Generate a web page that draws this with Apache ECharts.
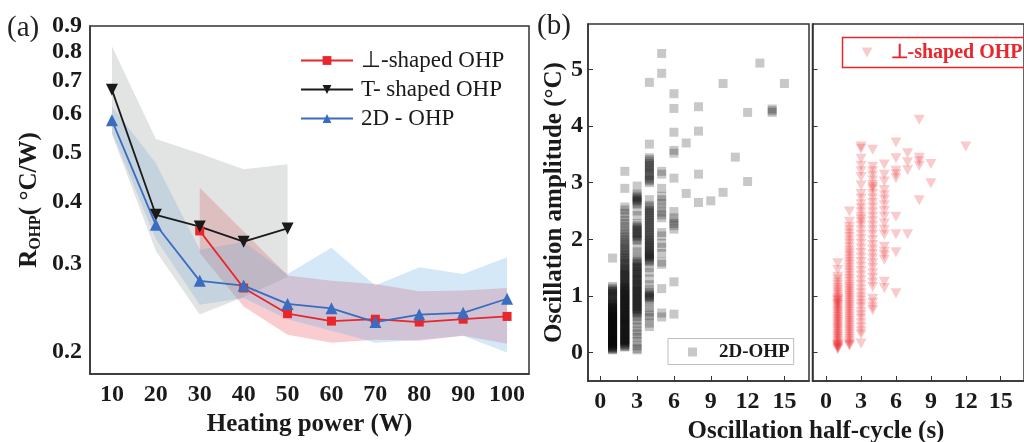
<!DOCTYPE html>
<html>
<head>
<meta charset="utf-8">
<script src="https://cdn.jsdelivr.net/npm/echarts@6/dist/echarts.min.js"></script>
<style>
  html, body { margin: 0; padding: 0; background: #fff; }
  #chart { width: 1024px; height: 442px; }
</style>
</head>
<body>
<div id="chart"></div>
<script>
// ---- panel (a): thermal resistance vs heating power ----
const power = ['10', '20', '30', '40', '50', '60', '70', '80', '90', '100']
const rPerp = ['-', '-', 0.349, 0.268, 0.238, 0.230, 0.232, 0.229, 0.232, 0.235]
const rT = [0.670, 0.376, 0.356, 0.332, 0.353, '-', '-', '-', '-', '-']
const r2D = [0.582, 0.359, 0.277, 0.271, 0.249, 0.244, 0.229, 0.237, 0.239, 0.255]
// shaded ranges (low / high)
const perpLo = ['-', '-', 0.315, 0.246, 0.216, 0.208, 0.211, 0.210, 0.215, 0.207]
const perpHi = ['-', '-', 0.426, 0.348, 0.284, 0.277, 0.273, 0.264, 0.265, 0.268]
const tLo = [0.545, 0.318, 0.237, 0.257, 0.282, '-', '-', '-', '-', '-']
const tHi = [0.820, 0.534, 0.499, 0.464, 0.475, '-', '-', '-', '-', '-']
const d2Lo = [0.550, 0.336, 0.248, 0.256, 0.232, 0.220, 0.208, 0.211, 0.215, 0.199]
const d2Hi = [0.620, 0.477, 0.320, 0.332, 0.286, 0.323, 0.271, 0.295, 0.286, 0.309]
const rTicks = [0.2, 0.3, 0.4, 0.5, 0.6, 0.7, 0.8, 0.9]

// ---- panel (b): oscillation amplitude vs half-cycle, [half-cycle, amplitudes] ----
const amp2D = [
  [1, [0.05, 0.06, 0.07, 0.08, 0.09, 0.1, 0.11, 0.12, 0.13, 0.14, 0.15, 0.16, 0.17, 0.18, 0.19, 0.2, 0.21, 0.22, 0.23, 0.24, 0.25, 0.26, 0.27, 0.28, 0.29, 0.3, 0.31, 0.32, 0.33, 0.34, 0.35, 0.36, 0.37, 0.39, 0.4, 0.41, 0.42, 0.43, 0.44, 0.45, 0.46, 0.47, 0.48, 0.49, 0.5, 0.51, 0.52, 0.53, 0.55, 0.56, 0.57, 0.58, 0.59, 0.6, 0.61, 0.62, 0.63, 0.64, 0.65, 0.66, 0.67, 0.69, 0.7, 0.71, 0.72, 0.73, 0.75, 0.76, 0.77, 0.78, 0.8, 0.81, 0.82, 0.84, 0.85, 0.87, 0.88, 0.9, 0.92, 0.94, 0.97, 0.99, 1.0, 1.03, 1.04, 1.07, 1.08, 1.1, 1.12, 1.14, 1.17, 1.67]],
  [2, [0.1, 0.11, 0.12, 0.14, 0.15, 0.17, 0.18, 0.2, 0.21, 0.22, 0.24, 0.25, 0.27, 0.28, 0.3, 0.31, 0.33, 0.34, 0.35, 0.37, 0.38, 0.4, 0.41, 0.43, 0.44, 0.46, 0.47, 0.49, 0.5, 0.52, 0.53, 0.55, 0.56, 0.57, 0.59, 0.6, 0.62, 0.63, 0.65, 0.66, 0.68, 0.69, 0.71, 0.72, 0.74, 0.75, 0.77, 0.78, 0.8, 0.81, 0.83, 0.84, 0.86, 0.87, 0.89, 0.9, 0.92, 0.93, 0.95, 0.96, 0.98, 0.99, 1.01, 1.02, 1.04, 1.05, 1.07, 1.08, 1.1, 1.12, 1.13, 1.15, 1.16, 1.18, 1.2, 1.22, 1.24, 1.26, 1.28, 1.3, 1.32, 1.34, 1.36, 1.38, 1.4, 1.42, 1.44, 1.46, 1.48, 1.5, 1.53, 1.56, 1.58, 1.6, 1.63, 1.66, 1.68, 1.71, 1.74, 1.77, 1.8, 1.83, 1.86, 1.9, 1.93, 1.96, 2.0, 2.04, 2.08, 2.12, 2.17, 2.23, 2.28, 2.33, 2.4, 2.46, 2.52, 2.57, 2.9, 3.2]],
  [3, [0.05, 0.07, 0.12, 0.2, 0.27, 0.33, 0.38, 0.45, 0.52, 0.58, 0.64, 0.68, 0.7, 0.72, 0.74, 0.76, 0.78, 0.8, 0.82, 0.84, 0.86, 0.88, 0.9, 0.92, 0.94, 0.96, 0.98, 1.0, 1.02, 1.04, 1.06, 1.08, 1.1, 1.12, 1.14, 1.16, 1.18, 1.2, 1.22, 1.25, 1.27, 1.29, 1.31, 1.33, 1.35, 1.38, 1.4, 1.42, 1.44, 1.47, 1.49, 1.51, 1.53, 1.56, 1.58, 1.61, 1.63, 1.7, 1.78, 1.86, 1.98, 2.0, 2.02, 2.05, 2.07, 2.1, 2.12, 2.15, 2.17, 2.2, 2.22, 2.25, 2.28, 2.42, 2.5, 2.62, 2.64, 2.66, 2.68, 2.7, 2.73, 2.75, 2.78, 2.8, 2.94]],
  [4, [0.46, 0.52, 0.62, 0.66, 0.72, 0.8, 0.88, 0.95, 0.97, 0.98, 1.0, 1.02, 1.04, 1.06, 1.12, 1.2, 1.3, 1.42, 1.5, 1.6, 1.62, 1.64, 1.66, 1.68, 1.7, 1.72, 1.74, 1.76, 1.78, 1.8, 1.83, 1.85, 1.88, 1.9, 1.93, 1.95, 1.98, 2.0, 2.03, 2.06, 2.09, 2.12, 2.15, 2.18, 2.21, 2.24, 2.27, 2.3, 2.33, 2.36, 2.39, 2.42, 2.45, 2.48, 2.51, 2.54, 2.57, 2.6, 2.7, 3.0, 3.03, 3.05, 3.08, 3.12, 3.15, 3.18, 3.22, 3.25, 3.28, 3.3, 3.34, 3.38, 3.41, 3.44, 3.68, 4.77]],
  [5, [0.63, 0.7, 1.13, 1.56, 1.6, 1.75, 1.86, 1.93, 2.06, 2.12, 2.38, 2.43, 2.48, 2.55, 2.63, 2.7, 2.76, 2.9, 3.15, 3.2, 4.93, 5.28]],
  [6, [0.68, 1.25, 2.18, 2.24, 2.28, 2.33, 2.38, 2.49, 3.08, 3.52, 3.57, 3.89, 4.31, 4.57]],
  [7, [2.81, 3.7]],
  [8, [2.65, 3.15, 3.91, 4.34]],
  [9, [2.68]],
  [10, [2.83, 4.75]],
  [11, [3.45]],
  [12, [3.02, 4.24]],
  [13, [5.11]],
  [14, [4.24, 4.27, 4.3]],
  [15, [4.75]]
]
const ampPerp = [
  [1, [0.06, 0.08, 0.09, 0.11, 0.12, 0.14, 0.15, 0.18, 0.21, 0.24, 0.27, 0.3, 0.33, 0.36, 0.39, 0.42, 0.45, 0.48, 0.51, 0.54, 0.57, 0.6, 0.63, 0.66, 0.69, 0.72, 0.75, 0.78, 0.81, 0.84, 0.86, 0.88, 0.91, 0.93, 0.95, 0.98, 1.02, 1.06, 1.1, 1.14, 1.19, 1.24, 1.29, 1.34, 1.46, 1.58]],
  [2, [0.12, 0.14, 0.16, 0.2, 0.24, 0.28, 0.32, 0.36, 0.4, 0.44, 0.48, 0.52, 0.56, 0.6, 0.64, 0.68, 0.72, 0.76, 0.8, 0.84, 0.88, 0.92, 0.96, 1.0, 1.04, 1.08, 1.12, 1.16, 1.2, 1.25, 1.3, 1.35, 1.4, 1.45, 1.5, 1.55, 1.6, 1.65, 1.7, 1.75, 1.8, 1.86, 1.92, 1.98, 2.04, 2.1, 2.16, 2.22, 2.31, 2.49]],
  [3, [0.16, 0.32, 0.38, 0.45, 0.52, 0.6, 0.66, 0.72, 0.8, 0.86, 0.92, 0.98, 1.05, 1.12, 1.2, 1.28, 1.36, 1.44, 1.52, 1.6, 1.68, 1.76, 1.84, 1.92, 2.0, 2.08, 2.16, 2.24, 2.3, 2.35, 2.4, 2.48, 2.55, 2.62, 2.72, 2.8, 2.95, 3.1, 3.2, 3.3, 3.42, 3.6, 3.64]],
  [4, [0.75, 0.8, 0.88, 0.95, 1.16, 1.24, 1.32, 1.4, 1.5, 1.58, 1.66, 1.74, 1.82, 1.9, 1.99, 2.08, 2.16, 2.24, 2.32, 2.4, 2.48, 2.56, 2.64, 2.72, 2.8, 2.88, 2.92, 2.96, 3.04, 3.12, 3.2, 3.28, 3.58]],
  [5, [1.14, 1.25, 1.64, 1.72, 1.78, 1.87, 2.08, 2.17, 2.28, 2.4, 2.5, 2.6, 2.7, 2.78, 2.87, 3.02, 3.14, 3.32]],
  [6, [1.05, 1.77, 2.09, 2.4, 3.08, 3.15, 3.21, 3.43, 3.71]],
  [7, [2.09, 3.22, 3.36, 3.52]],
  [8, [2.69, 3.3, 3.38, 3.44, 4.11]],
  [9, [2.99, 3.33]],
  [12, [3.64]]
]
const halfTicks = [0, 3, 6, 9, 12, 15]
const ampTicks = [0, 1, 2, 3, 4, 5]

const serif = "'Liberation Serif', 'Times New Roman', serif"
const axisColor = '#333'
const lg = v => (v === '-' ? '-' : Math.log10(v))
const toPoints = cols => cols.flatMap(([x, ys]) => ys.map(y => [x, y]))

const chart = echarts.init(document.getElementById('chart'))

function band(key, lo, hi, color) {
  return [{
    type: 'line', name: key + 'lo', stack: key, stackStrategy: 'all',
    data: lo.map(lg), symbol: 'none', lineStyle: { opacity: 0 },
    silent: true, z: 1
  }, {
    type: 'line', name: key + 'hi', stack: key, stackStrategy: 'all',
    data: hi.map((v, i) => (v === '-' ? '-' : lg(v) - lg(lo[i]))),
    symbol: 'none', lineStyle: { opacity: 0 },
    areaStyle: { color: color, opacity: 1 },
    silent: true, z: 1
  }]
}

const boldLabel = { fontFamily: serif, fontWeight: 'bold', fontSize: 24, color: '#1a1a1a' }
const lineAx = { show: true, onZero: false, lineStyle: { color: axisColor, width: 1.5 } }

chart.setOption({
  animation: false,
  grid: [
    { left: 90, top: 26, width: 439, height: 357, show: true, borderColor: axisColor, borderWidth: 1.5 },
    { left: 588, top: 24, width: 221, height: 357, show: true, borderColor: axisColor, borderWidth: 1.5 },
    { left: 812.5, top: 24, width: 223.5, height: 357, show: true, borderColor: axisColor, borderWidth: 1.5 }
  ],
  xAxis: [{
    gridIndex: 0, type: 'category', data: power, boundaryGap: true,
    axisLine: lineAx,
    axisTick: { inside: true, alignWithLabel: true, length: 6, lineStyle: { color: axisColor, width: 1.5 } },
    axisLabel: Object.assign({ interval: 0, margin: 9 }, boldLabel),
    name: 'Heating power (W)', nameLocation: 'middle', nameGap: 34,
    nameTextStyle: { fontFamily: serif, fontWeight: 'bold', fontSize: 25, color: '#1a1a1a' }
  }, {
    gridIndex: 1, type: 'value', min: -1, max: 17,
    axisLine: lineAx, splitLine: { show: false },
    axisTick: { inside: true, length: 5, customValues: halfTicks, lineStyle: { color: axisColor } },
    axisLabel: Object.assign({ margin: 9, customValues: halfTicks }, boldLabel)
  }, {
    gridIndex: 2, type: 'value', min: -1.17, max: 17,
    axisLine: lineAx, splitLine: { show: false },
    axisTick: { inside: true, length: 5, customValues: halfTicks, lineStyle: { color: axisColor } },
    axisLabel: Object.assign({ margin: 9, customValues: halfTicks }, boldLabel)
  }],
  yAxis: [{
    gridIndex: 0, type: 'value', min: lg(0.18), max: lg(0.9),
    axisLine: lineAx, splitLine: { show: false },
    axisTick: { inside: true, length: 6, customValues: rTicks.map(lg), lineStyle: { color: axisColor, width: 1.5 } },
    axisLabel: Object.assign({
      margin: 8, customValues: rTicks.map(lg),
      formatter: v => Math.pow(10, v).toFixed(1)
    }, boldLabel),
    name: '{m|R}{s|OHP}{m|( °C/W)}', nameLocation: 'middle', nameGap: 46,
    nameTextStyle: {
      rich: {
        m: { fontFamily: serif, fontWeight: 'bold', fontSize: 25, color: '#1a1a1a', lineHeight: 28, verticalAlign: 'middle' },
        s: { fontFamily: serif, fontWeight: 'bold', fontSize: 16, color: '#1a1a1a', lineHeight: 16, verticalAlign: 'bottom' }
      }
    }
  }, {
    gridIndex: 1, type: 'value', min: -0.5, max: 5.8,
    axisLine: lineAx, splitLine: { show: false },
    axisTick: { inside: true, length: 5, customValues: ampTicks, lineStyle: { color: axisColor } },
    axisLabel: Object.assign({ margin: 5, customValues: ampTicks }, boldLabel),
    name: 'Oscillation amplitude (°C)', nameLocation: 'middle', nameGap: 21,
    nameTextStyle: { fontFamily: serif, fontWeight: 'bold', fontSize: 25, color: '#1a1a1a' }
  }, {
    gridIndex: 2, type: 'value', min: -0.5, max: 5.8,
    axisLine: lineAx, splitLine: { show: false },
    axisTick: { inside: true, length: 5, customValues: ampTicks, lineStyle: { color: axisColor } },
    axisLabel: { show: false }
  }],
  legend: [{
    data: ['⊥-shaped OHP', 'T- shaped OHP', '2D - OHP'],
    orient: 'vertical', left: 300, top: 49, padding: 0, itemGap: 6,
    itemWidth: 52, itemHeight: 11,
    textStyle: { fontFamily: serif, fontSize: 23, color: '#1a1a1a', padding: [0, 0, 0, 3] }
  }, {
    data: ['2D-OHP'], left: 668, top: 338.5,
    padding: [4, 4, 3, 20], borderColor: '#bdbdbd', borderWidth: 1,
    itemWidth: 9, itemHeight: 9,
    textStyle: { fontFamily: serif, fontWeight: 'bold', fontSize: 19, color: '#1a1a1a', padding: [0, 0, 0, 17] }
  }, {
    data: [{ name: 'perpScatter', icon: 'path://M0,0L10,0L5,9Z' }], left: 842.5, top: 37.5,
    padding: [5, 3, 5, 19], borderColor: '#e8262b', borderWidth: 1.5,
    itemWidth: 11, itemHeight: 10,
    formatter: () => '⊥-shaped OHP',
    textStyle: { fontFamily: serif, fontWeight: 'bold', fontSize: 20, color: '#e8262b', padding: [0, 0, 0, 13] }
  }],
  series: [
    ...band('perp', perpLo, perpHi, 'rgba(235, 90, 95, 0.3)'),
    ...band('d2', d2Lo, d2Hi, 'rgba(100, 170, 230, 0.27)'),
    ...band('t', tLo, tHi, 'rgba(150, 155, 155, 0.28)'),
    {
      type: 'line', name: '⊥-shaped OHP', data: rPerp.map(lg), z: 3,
      symbol: 'rect', symbolSize: 9,
      itemStyle: { color: '#e8262b' }, lineStyle: { color: '#e8262b', width: 1.8 }
    },
    {
      type: 'line', name: 'T- shaped OHP', data: rT.map(lg), z: 3,
      symbol: 'triangle', symbolRotate: 180, symbolSize: 12,
      itemStyle: { color: '#1a1a1a' }, lineStyle: { color: '#1a1a1a', width: 1.8 }
    },
    {
      type: 'line', name: '2D - OHP', data: r2D.map(lg), z: 3,
      symbol: 'triangle', symbolSize: 12,
      itemStyle: { color: '#3a6cbf' }, lineStyle: { color: '#3a6cbf', width: 1.8 }
    },
    {
      type: 'scatter', name: '2D-OHP', xAxisIndex: 1, yAxisIndex: 1,
      data: toPoints(amp2D), symbol: 'rect', symbolSize: 9,
      itemStyle: { color: 'rgba(0, 0, 0, 0.27)' }
    },
    {
      type: 'scatter', name: 'perpScatter', xAxisIndex: 2, yAxisIndex: 2,
      data: toPoints(ampPerp), symbol: 'triangle', symbolRotate: 180, symbolSize: [11, 10],
      itemStyle: { color: 'rgba(236, 40, 45, 0.3)' }
    }
  ],
  graphic: [
    { type: 'text', style: { text: '(a)', x: 7, y: 28, fontFamily: serif, fontSize: 29, fill: '#222', verticalAlign: 'middle' } },
    { type: 'text', style: { text: '(b)', x: 537, y: 26, fontFamily: serif, fontSize: 29, fill: '#222', verticalAlign: 'middle' } },
    {
      type: 'text',
      style: {
        text: 'Oscillation half-cycle (s)', x: 816, y: 432, align: 'center', verticalAlign: 'middle',
        fontFamily: serif, fontWeight: 'bold', fontSize: 25, fill: '#1a1a1a'
      }
    }
  ]
})
</script>
</body>
</html>
